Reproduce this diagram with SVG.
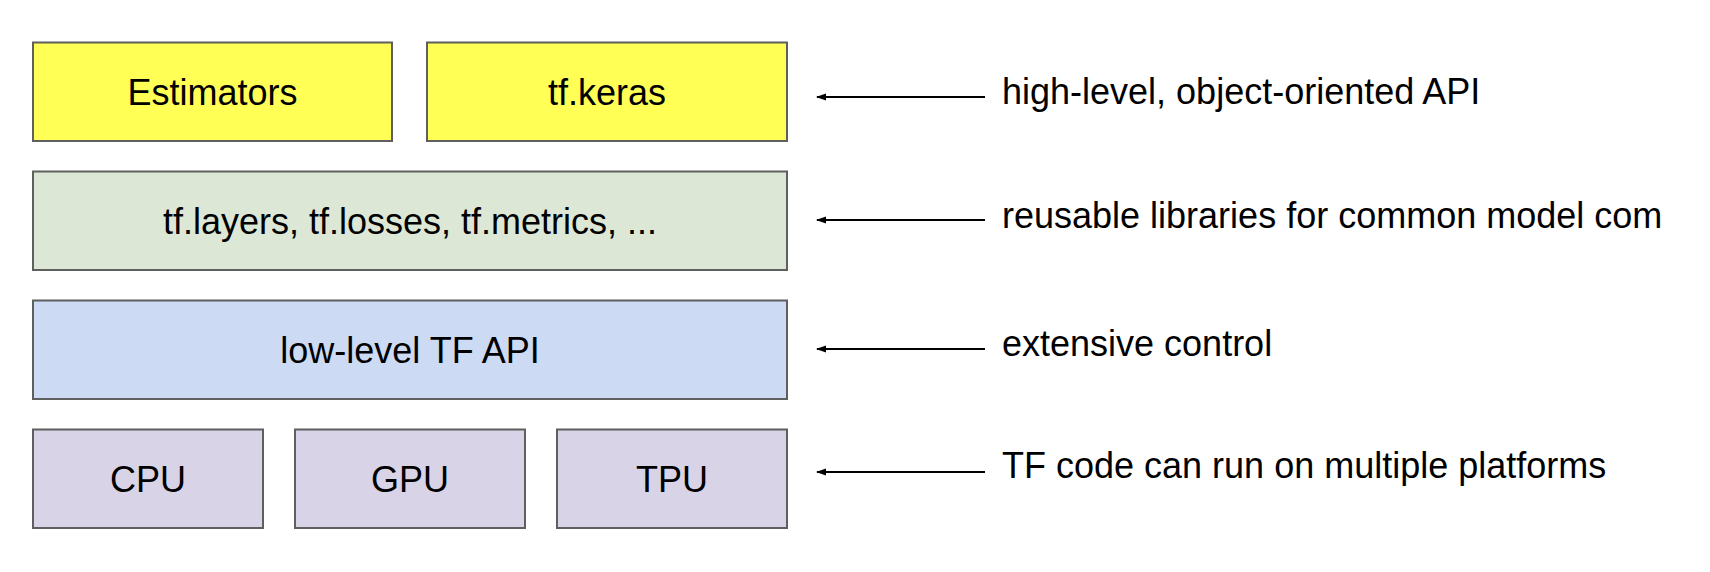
<svg xmlns="http://www.w3.org/2000/svg" width="1710" height="572" viewBox="0 0 1710 572">
<style>
  .box { stroke: #5f5f5f; stroke-width: 2; }
  .yellow { fill: #ffff55; }
  .green { fill: #dce8d5; }
  .blue { fill: #ccdaf4; }
  .purple { fill: #d8d3e7; }
  .lbl { font-family: "Liberation Sans", Arial, sans-serif; font-size: 36px; fill: #000000; }
  .mid { text-anchor: middle; }
  .conn { stroke: #000000; stroke-width: 2; fill: none; marker-end: url(#arrow); }
</style>
<defs>
  <marker id="arrow" markerWidth="10" markerHeight="8" refX="9" refY="4" orient="auto" markerUnits="userSpaceOnUse">
    <path d="M0,0.5 L10,4 L0,7.5 Z" fill="#000000"/>
  </marker>
</defs>
<rect width="1710" height="572" fill="#ffffff"/>
<g id="estimators">
  <rect class="box yellow" x="33" y="42.5" width="359" height="98.5"/>
  <text class="lbl mid" x="212.5" y="105">Estimators</text>
</g>
<g id="tfkeras">
  <rect class="box yellow" x="427" y="42.5" width="360" height="98.5"/>
  <text class="lbl mid" x="607" y="105">tf.keras</text>
</g>
<g id="libraries">
  <rect class="box green" x="33" y="171.5" width="754" height="98.5"/>
  <text class="lbl mid" x="410" y="233.5">tf.layers, tf.losses, tf.metrics, ...</text>
</g>
<g id="lowlevel">
  <rect class="box blue" x="33" y="300.5" width="754" height="98.5"/>
  <text class="lbl mid" x="410" y="362.5">low-level TF API</text>
</g>
<g id="cpu">
  <rect class="box purple" x="33" y="429.5" width="230" height="98.5"/>
  <text class="lbl mid" x="148" y="491.5">CPU</text>
</g>
<g id="gpu">
  <rect class="box purple" x="295" y="429.5" width="230" height="98.5"/>
  <text class="lbl mid" x="410" y="491.5">GPU</text>
</g>
<g id="tpu">
  <rect class="box purple" x="557" y="429.5" width="230" height="98.5"/>
  <text class="lbl mid" x="672" y="491.5">TPU</text>
</g>
<g id="connectors">
  <line class="conn" x1="985" y1="97" x2="817" y2="97"/>
  <line class="conn" x1="985" y1="220" x2="817" y2="220"/>
  <line class="conn" x1="985" y1="349" x2="817" y2="349"/>
  <line class="conn" x1="985" y1="472" x2="817" y2="472"/>
</g>
<g id="annotations">
  <text class="lbl" x="1002" y="104">high-level, object-oriented API</text>
  <text class="lbl" x="1002" y="228">reusable libraries for common model com</text>
  <text class="lbl" x="1002" y="356">extensive control</text>
  <text class="lbl" x="1002" y="478">TF code can run on multiple platforms</text>
</g>
</svg>
